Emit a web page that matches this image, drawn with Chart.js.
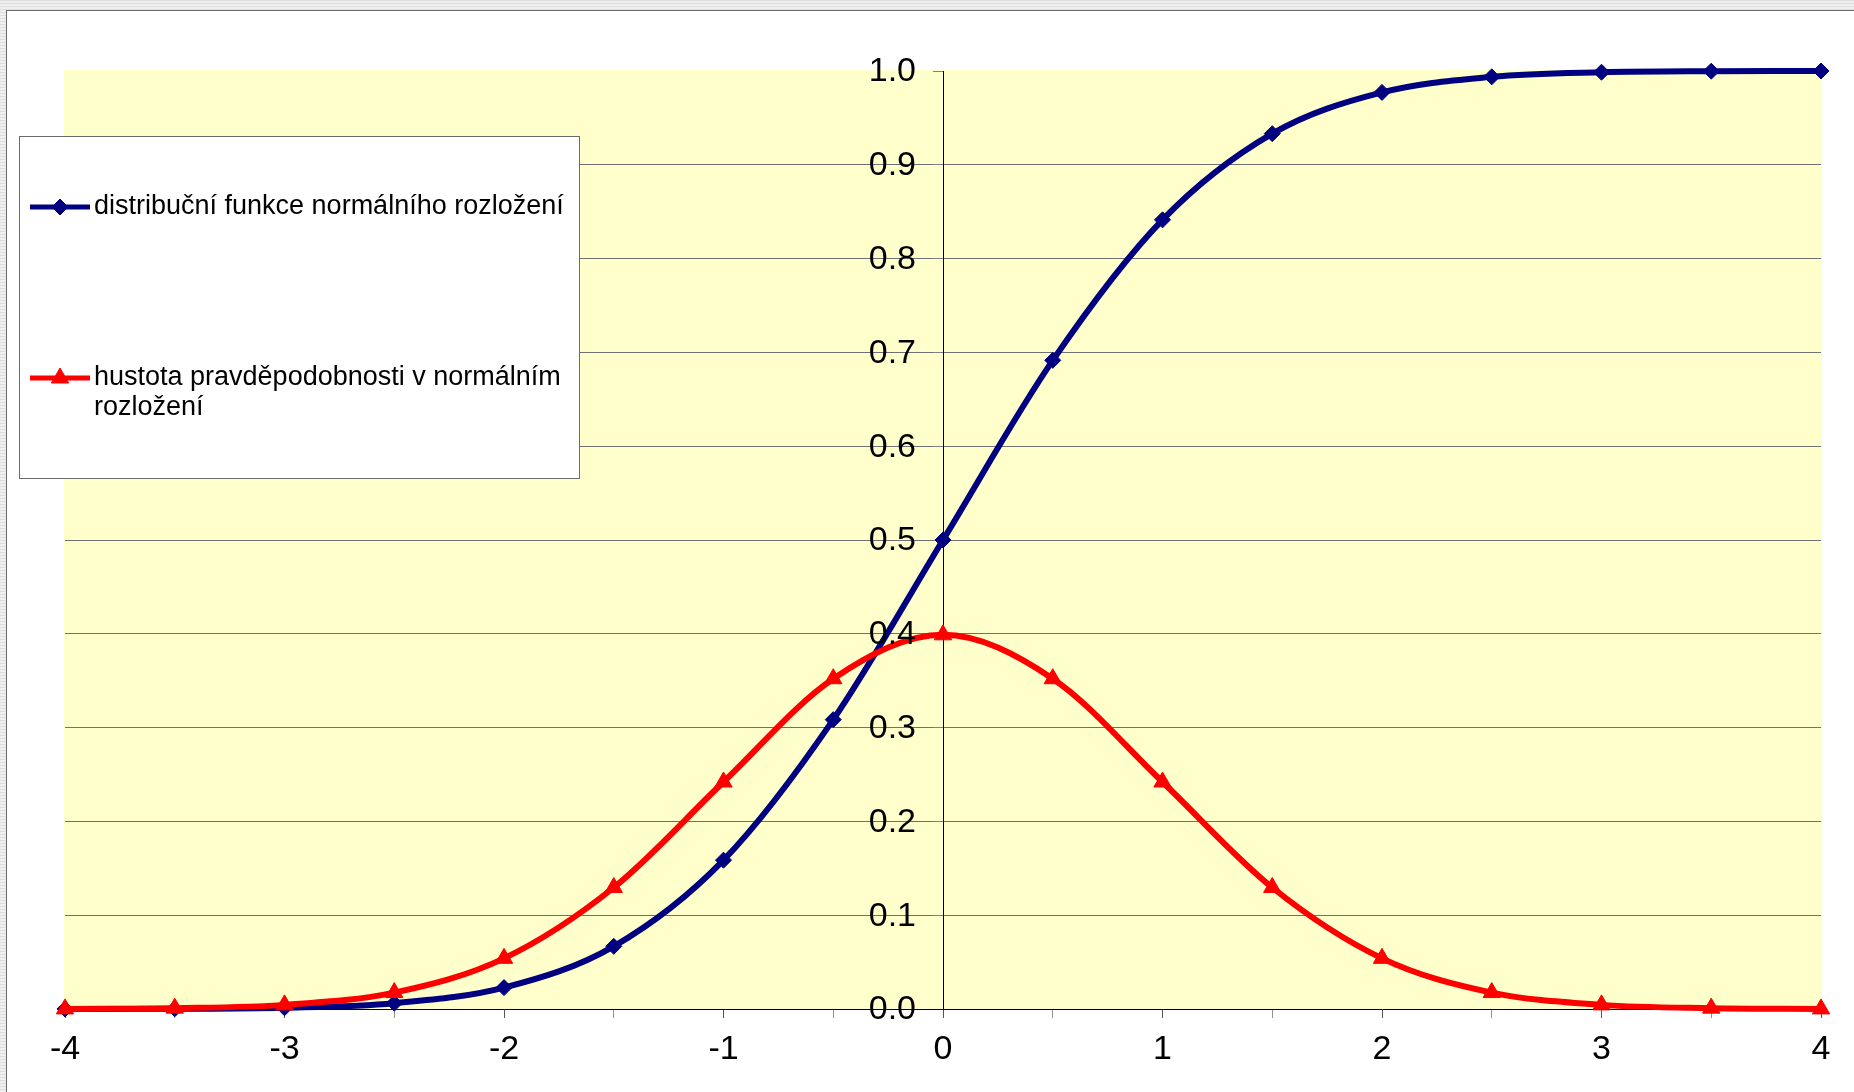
<!DOCTYPE html>
<html>
<head>
<meta charset="utf-8">
<script src="https://cdn.jsdelivr.net/npm/chart.js@4.4.0/dist/chart.umd.min.js"></script>
<style>
  html, body { margin: 0; padding: 0; }
  body {
    width: 1854px; height: 1092px; overflow: hidden; position: relative;
    background: repeating-linear-gradient(0deg, #efefef 0 2px, #dedede 2px 3px);
  }
  #frame {
    position: absolute; left: 6px; top: 10px; right: 0; bottom: 0;
    background: #fff; border-left: 1px solid #6b6b6b; border-top: 1px solid #6b6b6b;
  }
  #myChart { position: absolute; left: 0; top: 0; }
</style>
</head>
<body>
<div id="frame"></div>
<canvas id="myChart" width="1854" height="1092"></canvas>
<script>
// hodnoty
var xValues = [-4, -3.5, -3, -2.5, -2, -1.5, -1, -0.5, 0, 0.5, 1, 1.5, 2, 2.5, 3, 3.5, 4];
var cdfValues = [0.0000, 0.0002, 0.0013, 0.0062, 0.0228, 0.0668, 0.1587, 0.3085, 0.5000,
                 0.6915, 0.8413, 0.9332, 0.9772, 0.9938, 0.9987, 0.9998, 1.0000];
var pdfValues = [0.0001, 0.0009, 0.0044, 0.0175, 0.0540, 0.1295, 0.2420, 0.3521, 0.3989,
                 0.3521, 0.2420, 0.1295, 0.0540, 0.0175, 0.0044, 0.0009, 0.0001];
var xTickLabels = ['-4', '-3', '-2', '-1', '0', '1', '2', '3', '4'];
var yTickLabels = ['0.0', '0.1', '0.2', '0.3', '0.4', '0.5', '0.6', '0.7', '0.8', '0.9', '1.0'];
var seriesNames = ['distribuční funkce normálního rozložení',
                   'hustota pravděpodobnosti v normálním rozložení'];

var FONT = '"Liberation Sans", Arial, sans-serif';

function toPoints(ys) {
  return xValues.map(function (x, i) { return { x: x, y: ys[i] }; });
}

// žluté pozadí grafu
var plotBg = {
  id: 'plotBg',
  beforeDraw: function (chart) {
    var a = chart.chartArea, ctx = chart.ctx;
    ctx.save();
    ctx.fillStyle = '#ffffcc';
    ctx.fillRect(a.left - 1, a.top - 1, a.right - a.left + 2, a.bottom - a.top + 1);
    ctx.restore();
  }
};

// popisky osy y vlevo od osy (osa stojí v x = 0)
var yLabels = {
  id: 'yLabels',
  afterDatasetsDraw: function (chart) {
    var ys = chart.scales.y, xs = chart.scales.x, ctx = chart.ctx;
    var x0 = xs.getPixelForValue(0);
    ctx.save();
    ctx.fillStyle = '#000';
    ctx.font = '34px ' + FONT;
    ctx.textAlign = 'right';
    ctx.textBaseline = 'middle';
    yTickLabels.forEach(function (t, i) {
      ctx.fillText(t, x0 - 27, ys.getPixelForValue(i / 10) + 1);
    });
    ctx.restore();
  }
};

// legenda v rámečku vlevo nahoře
var boxLegend = {
  id: 'boxLegend',
  afterDraw: function (chart) {
    var ctx = chart.ctx;
    var rows = [207, 378];
    ctx.save();
    ctx.fillStyle = '#ffffff';
    ctx.fillRect(19.5, 136.5, 560, 342);
    ctx.strokeStyle = '#6b6b6b';
    ctx.lineWidth = 1;
    ctx.strokeRect(19.5, 136.5, 560, 342);
    chart.data.datasets.forEach(function (ds, i) {
      var y = rows[i];
      ctx.strokeStyle = ds.borderColor;
      ctx.lineWidth = 5;
      ctx.beginPath();
      ctx.moveTo(30, y);
      ctx.lineTo(90, y);
      ctx.stroke();
      ctx.fillStyle = ds.pointBackgroundColor;
      ctx.strokeStyle = ds.pointBorderColor;
      ctx.lineWidth = 1;
      Chart.helpers.drawPoint(ctx, { pointStyle: ds.pointStyle, radius: ds.pointRadius, rotation: 0, borderWidth: 1 }, 60, y);
      ctx.fillStyle = '#000';
      ctx.font = '27px ' + FONT;
      ctx.textBaseline = 'middle';
      ctx.textAlign = 'left';
      var words = ds.label.split(' '), line = '', ly = y;
      words.forEach(function (w) {
        var test = line ? line + ' ' + w : w;
        if (ctx.measureText(test).width > 478 && line) {
          ctx.fillText(line, 94, ly);
          line = w;
          ly += 30;
        } else {
          line = test;
        }
      });
      ctx.fillText(line, 94, ly);
    });
    ctx.restore();
  }
};

var ctx = document.getElementById('myChart').getContext('2d');

var myChart = new Chart(ctx, {
  type: 'line',
  data: {
    datasets: [
      {
        label: seriesNames[0],
        data: toPoints(cdfValues),
        borderColor: '#000080',
        borderWidth: 6,
        pointStyle: 'rectRot',
        pointRadius: 8,
        pointBackgroundColor: '#000080',
        pointBorderColor: '#000080',
        pointBorderWidth: 1,
        cubicInterpolationMode: 'monotone',
        clip: false,
        order: 2
      },
      {
        label: seriesNames[1],
        data: toPoints(pdfValues),
        borderColor: '#ff0000',
        borderWidth: 6,
        pointStyle: 'triangle',
        pointRadius: 10,
        pointBackgroundColor: '#ff0000',
        pointBorderColor: '#ff0000',
        pointBorderWidth: 1,
        cubicInterpolationMode: 'monotone',
        clip: false,
        order: 1
      }
    ]
  },
  options: {
    responsive: false,
    animation: false,
    layout: { padding: { left: 65, right: 33, top: 71, bottom: 0 } },
    scales: {
      x: {
        type: 'linear',
        position: 'bottom',
        min: -4,
        max: 4,
        afterFit: function (scale) { scale.height = 83; },
        ticks: {
          stepSize: 0.5,
          autoSkip: false,
          maxRotation: 0,
          padding: 11,
          color: '#000',
          font: { family: FONT, size: 34 },
          callback: function (v) {
            return Number.isInteger(v) ? xTickLabels[v + 4] : '';
          }
        },
        grid: {
          drawOnChartArea: false,
          drawTicks: true,
          tickLength: 9,
          tickColor: function (c) { return Number.isInteger(c.tick.value) ? '#555555' : '#909090'; }
        },
        border: { color: '#000', width: 1 }
      },
      y: {
        type: 'linear',
        position: { x: 0 },
        min: 0,
        max: 1,
        ticks: {
          display: false,
          stepSize: 0.1
        },
        grid: {
          drawTicks: true,
          tickLength: 10,
          tickColor: '#808080',
          color: function (c) {
            var v = Math.round(c.tick.value * 10);
            return (v === 0 || v === 10) ? 'rgba(0,0,0,0)' : '#707070';
          }
        },
        border: { color: '#000', width: 1 }
      }
    },
    plugins: {
      legend: { display: false },
      tooltip: { enabled: false }
    }
  },
  plugins: [plotBg, yLabels, boxLegend]
});
</script>
</body>
</html>
